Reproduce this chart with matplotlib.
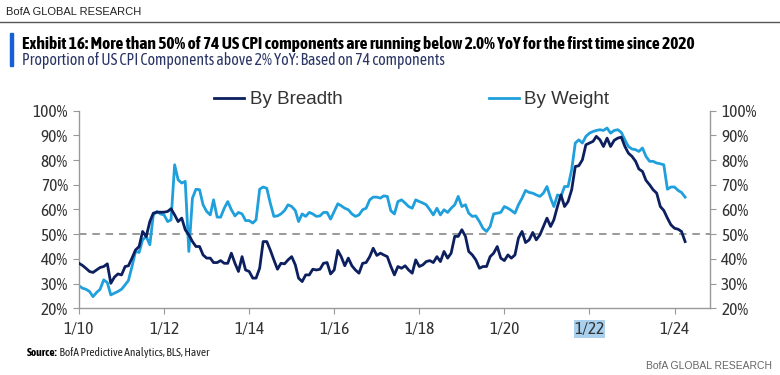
import matplotlib
matplotlib.use("Agg")
import matplotlib.pyplot as plt
from matplotlib import font_manager
import pandas as pd

# ---------------- data ----------------
start_month = "2010-01-01"
by_breadth = [
    38.2, 37.3, 36.2, 34.9, 34.5, 35.5, 36.5, 36.9, 38.0, 30.1, 32.6, 33.9,
    33.5, 36.9, 37.2, 40.3, 43.6, 45.0, 51.1, 49.0, 55.1, 58.5, 58.9, 58.9,
    58.9, 59.2, 60.3, 57.8, 55.1, 56.5, 51.8, 49.7, 47.0, 45.0, 45.0, 41.6,
    40.3, 40.3, 38.5, 38.5, 39.3, 38.2, 38.2, 42.3, 38.2, 34.9, 40.9, 35.5,
    34.9, 32.2, 32.2, 36.2, 47.0, 47.0, 43.6, 39.6, 35.8, 38.2, 38.0, 39.6,
    40.9, 37.6, 32.2, 30.8, 33.5, 33.5, 35.8, 35.5, 35.8, 38.2, 38.5, 33.9,
    35.5, 43.4, 40.9, 37.2, 40.3, 37.2, 35.5, 34.2, 38.2, 38.5, 40.9, 44.3,
    41.4, 42.3, 41.6, 40.9, 37.0, 33.5, 36.9, 36.2, 37.2, 35.5, 34.2, 39.6,
    36.9, 37.6, 38.9, 39.3, 38.5, 40.9, 38.9, 43.0, 40.3, 42.3, 49.1, 49.1,
    51.8, 49.1, 43.0, 41.6, 39.6, 36.2, 36.9, 36.9, 40.9, 42.3, 45.0, 40.3,
    39.3, 41.6, 40.3, 41.6, 48.4, 51.1, 46.6, 47.7, 50.7, 47.7, 49.7, 53.1,
    56.5, 53.1, 55.8, 61.2, 65.9, 61.2, 63.2, 68.0, 77.4, 77.7, 80.1, 86.2,
    86.9, 87.6, 89.6, 88.2, 85.5, 88.9, 85.5, 88.0, 88.9, 89.3, 85.5, 82.8,
    81.5, 79.5, 76.4, 75.4, 71.8, 70.0, 68.0, 66.6, 61.2, 59.6, 56.5, 53.8,
    52.4, 52.0, 51.1, 47.0,
]
by_weight = [
    29.1, 28.1, 27.7, 26.8, 24.7, 26.4, 27.7, 31.5, 30.4, 25.4, 26.1, 26.8,
    27.7, 29.5, 31.2, 36.9, 43.0, 42.6, 47.7, 49.1, 45.7, 57.8, 59.2, 58.2,
    57.8, 55.1, 55.8, 78.1, 72.0, 70.7, 71.4, 43.0, 64.6, 68.2, 68.0, 61.9,
    59.2, 57.8, 63.9, 56.9, 56.9, 60.5, 63.2, 59.9, 57.4, 58.8, 58.2, 55.5,
    55.5, 54.5, 55.8, 68.2, 69.1, 68.6, 62.6, 57.2, 57.4, 58.2, 59.6, 61.9,
    61.2, 59.6, 55.1, 58.2, 57.2, 58.8, 58.2, 57.2, 57.4, 58.8, 58.8, 56.1,
    59.2, 62.3, 61.5, 60.5, 59.9, 58.2, 57.2, 57.8, 59.9, 60.5, 63.9, 65.0,
    65.0, 64.6, 65.5, 65.3, 59.5, 58.2, 63.2, 63.9, 62.6, 61.2, 60.5, 63.9,
    63.2, 62.6, 61.9, 59.9, 57.8, 60.5, 57.8, 59.9, 58.8, 60.5, 61.9, 65.3,
    61.2, 61.9, 58.5, 57.2, 57.4, 55.1, 52.4, 51.1, 53.1, 58.2, 58.5, 58.8,
    61.2, 60.5, 59.6, 58.5, 61.9, 64.6, 67.7, 66.9, 66.6, 65.9, 65.3, 66.6,
    69.3, 64.6, 61.2, 65.9, 65.3, 69.3, 69.3, 76.1, 86.9, 88.2, 86.9, 89.6,
    90.9, 91.6, 92.0, 92.3, 92.0, 93.0, 90.9, 92.0, 92.3, 91.2, 88.2, 85.5,
    84.5, 84.2, 83.5, 84.9, 81.5, 79.5, 79.5, 78.8, 78.5, 78.1, 68.2, 69.1,
    69.1, 67.7, 66.9, 65.0,
]
series_names = ["By Breadth", "By Weight"]
x_ticks = ["2010-01-01", "2012-01-01", "2014-01-01", "2016-01-01",
           "2018-01-01", "2020-01-01", "2022-01-01", "2024-01-01"]
x_tick_labels = ["1/10", "1/12", "1/14", "1/16", "1/18", "1/20", "1/22", "1/24"]
y_ticks = [20, 30, 40, 50, 60, 70, 80, 90, 100]
threshold = 50

title = "Exhibit 16: More than 50% of 74 US CPI components are running below 2.0% YoY for the first time since 2020"
subtitle = "Proportion of US CPI Components above 2% YoY: Based on 74 components"
source_bold = "Source:"
source_text = " BofA Predictive Analytics, BLS, Haver"
brand = "BofA GLOBAL RESEARCH"

# ---------------- font choice ----------------
def _w(f):
    w = f.weight
    if isinstance(w, str):
        w = font_manager.weight_dict.get(w, 400)
    return int(w)

cond = [f for f in font_manager.fontManager.ttflist
        if ("Narrow" in f.name or "Condensed" in f.name) and f.style == "normal"]
reg_names = [f.name for f in cond if _w(f) <= 450]
bold_names = [f.name for f in cond if _w(f) >= 600]
both = [n for n in reg_names if n in bold_names]
REG = (both or reg_names or ["Liberation Sans"])[0]
BOLD = (both or bold_names or [REG])[0]
FALL = ["Liberation Sans", "DejaVu Sans"]
plt.rcParams["font.family"] = [REG] + FALL

NAVY = "#0c1f5e"
LIGHT = "#1f9fdc"
GREY = "#999999"
TXT = "#333333"

dates = pd.date_range(start_month, periods=len(by_breadth), freq="MS")

fig = plt.figure(figsize=(7.8, 3.75), dpi=100)
ax = fig.add_axes([0.1013, 0.178, 0.8090, 0.5268])

l1, = ax.plot(dates, by_breadth, color=NAVY, lw=2.0, label=series_names[0], zorder=3)
l2, = ax.plot(dates, by_weight, color=LIGHT, lw=2.0, label=series_names[1], zorder=2)
ax.axhline(threshold, color="#888888", lw=1.2, ls=(0, (4.5, 3.5)), zorder=1)

ax.set_ylim(20, 100)
ax.set_xlim(pd.Timestamp("2010-01-01"), pd.Timestamp("2024-11-01"))
ax.set_yticks(y_ticks)
ax.set_yticklabels([f"{v}%" for v in y_ticks])
ax.set_xticks(pd.to_datetime(x_ticks))
ax.set_xticklabels(x_tick_labels)

ax.spines["top"].set_visible(False)
for s in ["left", "right", "bottom"]:
    ax.spines[s].set_color(GREY)
    ax.spines[s].set_linewidth(1.0)

ax.tick_params(axis="y", which="both", left=True, right=True, labelleft=True,
               labelright=True, direction="out", length=4, color=GREY,
               labelsize=12.5, labelcolor=TXT, pad=4)
ax.tick_params(axis="x", direction="out", length=4, color=GREY,
               labelsize=12.5, labelcolor=TXT, pad=5)

for lab in ax.get_xticklabels():
    if lab.get_text() == "1/22":
        lab.set_bbox(dict(facecolor="#a9d1ee", edgecolor="none", pad=0.5))

leg = ax.legend(handles=[l1, l2], ncol=2, loc="center", frameon=False,
                bbox_to_anchor=(0.527, 1.055), handlelength=1.6,
                handletextpad=0.3, columnspacing=7.8, labelcolor=TXT,
                prop={"family": ["Liberation Sans", "DejaVu Sans"], "size": 13.5})

# ---------------- header / footer ----------------
W = fig.bbox.width


def fit_text(t, target_px, renderer):
    bb = t.get_window_extent(renderer=renderer)
    t.set_fontsize(t.get_fontsize() * target_px / bb.width)


fig.text(0.008, 0.968, brand, fontsize=8, color="#222222", va="center", ha="left",
         family=FALL)
fig.add_artist(plt.Line2D([0, 1], [0.942, 0.942], color="#555555", lw=1.0,
                          transform=fig.transFigure))
fig.add_artist(plt.Rectangle((0.0128, 0.825), 0.0045, 0.087, color="#1560d6",
                             transform=fig.transFigure))
tt = fig.text(0.028, 0.883, title, fontsize=11, fontweight="bold", color="#000000",
              va="center", ha="left", family=[BOLD] + FALL)
st = fig.text(0.028, 0.838, subtitle, fontsize=9.8, color="#2a3566",
              va="center", ha="left")
t1 = fig.text(0.035, 0.061, source_bold, fontsize=8.2, fontweight="bold",
              color="#000000", va="center", ha="left", family=[BOLD] + FALL)
fig.canvas.draw()
r = fig.canvas.get_renderer()
fit_text(tt, 675, r)
fit_text(st, 423, r)
fig.canvas.draw()
bb = t1.get_window_extent(renderer=r)
x1 = bb.x1 / W
fig.text(x1, 0.061, source_text, fontsize=8.2, color="#222222", va="center", ha="left")
fig.text(0.99, 0.024, brand, fontsize=7.5, color="#666666", va="center", ha="right",
         family=FALL)

fig.savefig("out.png", dpi=100)
